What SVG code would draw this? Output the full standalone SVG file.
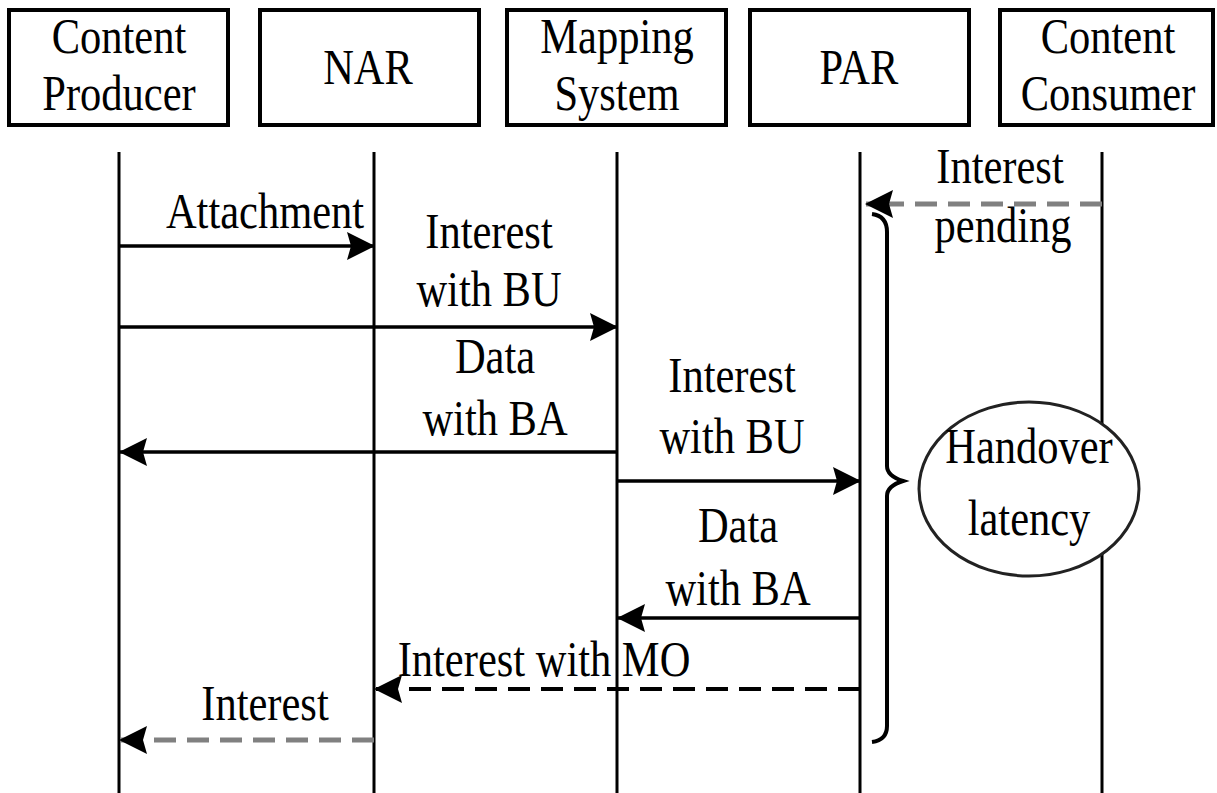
<svg xmlns="http://www.w3.org/2000/svg" width="1217" height="793" viewBox="0 0 1217 793">
  <style>
    .box { fill: #fff; stroke: #000; stroke-width: 4; }
    .life { stroke: #000; stroke-width: 3; fill: none; }
    .msg { stroke: #000; stroke-width: 3.5; fill: none; }
    .dash { stroke: #000; stroke-width: 4; fill: none; stroke-dasharray: 22 11; }
    .gdash { stroke: #808080; stroke-width: 5; fill: none; stroke-dasharray: 22 11; }
    .lbl { font-family: "Liberation Serif", "Times New Roman", serif; font-size: 50px; fill: #000; text-anchor: middle; }
  </style>
  <defs>
    <marker id="arrow" viewBox="0 0 28 30" refX="27" refY="15" markerWidth="28" markerHeight="30" markerUnits="userSpaceOnUse" orient="auto">
      <path d="M0,1 L28,15 L0,29 L4,15 z" fill="#000"/>
    </marker>
  </defs>
  <rect width="1217" height="793" fill="#fff"/>

  <!-- participants -->
  <g id="producer">
    <rect class="box" x="9" y="10" width="219" height="115"/>
    <text class="lbl" transform="translate(119,53) scale(0.85,1)">Content</text>
    <text class="lbl" transform="translate(119,110) scale(0.85,1)">Producer</text>
  </g>
  <g id="nar">
    <rect class="box" x="260" y="10" width="219" height="115"/>
    <text class="lbl" transform="translate(368,84) scale(0.85,1)">NAR</text>
  </g>
  <g id="mapping">
    <rect class="box" x="507" y="10" width="219" height="115"/>
    <text class="lbl" transform="translate(617,53) scale(0.85,1)">Mapping</text>
    <text class="lbl" transform="translate(617,110) scale(0.85,1)">System</text>
  </g>
  <g id="par">
    <rect class="box" x="750" y="10" width="219" height="115"/>
    <text class="lbl" transform="translate(859,84) scale(0.85,1)">PAR</text>
  </g>
  <g id="consumer">
    <rect class="box" x="1000" y="10" width="213" height="115"/>
    <text class="lbl" transform="translate(1108,53) scale(0.85,1)">Content</text>
    <text class="lbl" transform="translate(1108,110) scale(0.85,1)">Consumer</text>
  </g>

  <!-- lifelines -->
  <g id="lifelines">
    <line class="life" x1="119" y1="152" x2="119" y2="793"/>
    <line class="life" x1="374" y1="152" x2="374" y2="793"/>
    <line class="life" x1="617" y1="152" x2="617" y2="793"/>
    <line class="life" x1="860" y1="152" x2="860" y2="793"/>
    <line class="life" x1="1102" y1="152" x2="1102" y2="793"/>
  </g>

  <!-- messages -->
  <g id="connectors">
    <line class="gdash" x1="1102" y1="204" x2="866" y2="204" marker-end="url(#arrow)"/>
    <line class="msg" x1="119" y1="246" x2="374" y2="246" marker-end="url(#arrow)"/>
    <line class="msg" x1="119" y1="327" x2="617" y2="327" marker-end="url(#arrow)"/>
    <line class="msg" x1="617" y1="452" x2="120" y2="452" marker-end="url(#arrow)"/>
    <line class="msg" x1="617" y1="481" x2="860" y2="481" marker-end="url(#arrow)"/>
    <line class="msg" x1="860" y1="618" x2="618" y2="618" marker-end="url(#arrow)"/>
    <line class="dash" x1="860" y1="689" x2="375" y2="689" marker-end="url(#arrow)"/>
    <line class="gdash" x1="374" y1="740" x2="120" y2="740" marker-end="url(#arrow)"/>
  </g>

  <!-- message labels -->
  <g id="labels">
    <text class="lbl" transform="translate(1000,183) scale(0.85,1)">Interest</text>
    <text class="lbl" transform="translate(1003,242) scale(0.85,1)">pending</text>
    <text class="lbl" transform="translate(265,228) scale(0.85,1)">Attachment</text>
    <text class="lbl" transform="translate(489,248) scale(0.85,1)">Interest</text>
    <text class="lbl" transform="translate(489,306) scale(0.85,1)">with BU</text>
    <text class="lbl" transform="translate(495,373) scale(0.85,1)">Data</text>
    <text class="lbl" transform="translate(495,435) scale(0.85,1)">with BA</text>
    <text class="lbl" transform="translate(732,392) scale(0.85,1)">Interest</text>
    <text class="lbl" transform="translate(732,453) scale(0.85,1)">with BU</text>
    <text class="lbl" transform="translate(738,542) scale(0.85,1)">Data</text>
    <text class="lbl" transform="translate(738,605) scale(0.85,1)">with BA</text>
    <text class="lbl" transform="translate(544,676) scale(0.85,1)">Interest with MO</text>
    <text class="lbl" transform="translate(265,720) scale(0.85,1)">Interest</text>
  </g>

  <!-- handover interval brace -->
  <g id="brace">
    <path d="M872,214 Q887,216 887,232 L887,466 Q887,476 903,481 Q887,486 887,496 L887,726 Q887,740 872,742" fill="none" stroke="#000" stroke-width="4"/>
  </g>

  <!-- handover latency note -->
  <g id="latency">
    <ellipse cx="1029" cy="489" rx="110" ry="87" fill="#fff" stroke="#222" stroke-width="3"/>
    <text class="lbl" transform="translate(1029,463) scale(0.85,1)">Handover</text>
    <text class="lbl" transform="translate(1029,535) scale(0.85,1)">latency</text>
  </g>
</svg>
